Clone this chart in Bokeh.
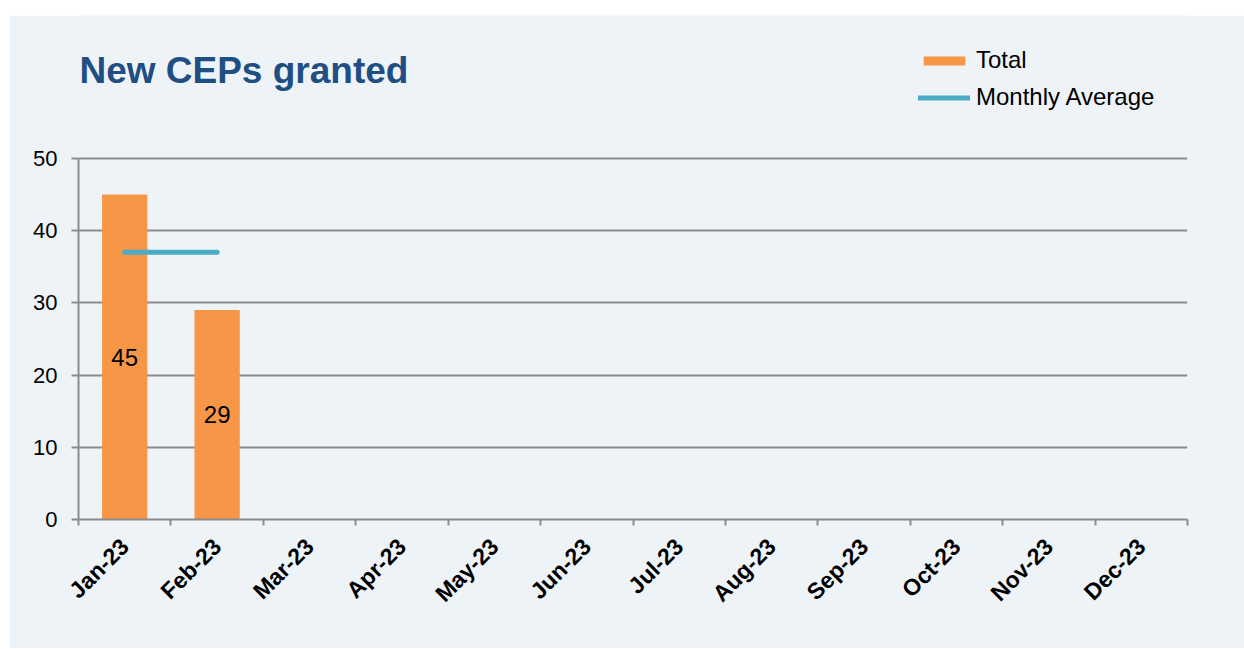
from bokeh.plotting import figure
from bokeh.models import (Range1d, FixedTicker, Label, Legend, LegendItem, ColumnDataSource, Spacer)
from bokeh.layouts import column, row
from bokeh.core.properties import value
from bokeh.embed import file_html
from bokeh.resources import INLINE
import math

# ---- data ----
months = ["Jan-23", "Feb-23", "Mar-23", "Apr-23", "May-23", "Jun-23",
          "Jul-23", "Aug-23", "Sep-23", "Oct-23", "Nov-23", "Dec-23"]
total = [45, 29]
monthly_average = [37, 37]
y_ticks = [0, 10, 20, 30, 40, 50]

BG = "#EEF3F8"
GRID = "#8C8C8C"
ORANGE = "#F79646"
TEAL = "#4BACC6"
FONT = "Liberation Sans"

n = len(months)
xc = [i + 0.5 for i in range(n)]
Y_TOP = 69.8  # frame extends above the 50 gridline to hold title and legend

p = figure(width=1235, height=633, output_backend="svg", toolbar_location=None,
           x_range=Range1d(0, n), y_range=Range1d(0, Y_TOP),
           min_border_left=69, min_border_right=57, min_border_top=0, min_border_bottom=129)
p.background_fill_color = BG
p.border_fill_color = BG
p.outline_line_color = None

# bars
src = ColumnDataSource(dict(x=xc[:len(total)], top=total, half=[t / 2 for t in total],
                            lab=[str(t) for t in total]))
bars = p.vbar(x="x", top="top", width=0.49, source=src, fill_color=ORANGE, line_color=None)
p.text(x="x", y="half", text="lab", source=src, text_align="center", text_baseline="middle",
       text_font=value(FONT), text_font_size="24px", text_color="black")

avg = p.line(x=xc[:len(monthly_average)], y=monthly_average, line_color=TEAL,
             line_width=5, line_cap="round")

# axes
xa = p.xaxis[0]
xa.ticker = FixedTicker(ticks=xc, minor_ticks=list(range(n + 1)))
xa.major_label_overrides = {x: m for x, m in zip(xc, months)}
xa.major_label_orientation = math.pi / 4
xa.major_tick_out = 0
xa.major_tick_in = 0
xa.minor_tick_out = 6
xa.minor_tick_in = 0
xa.minor_tick_line_color = GRID
xa.minor_tick_line_width = 2
xa.axis_line_color = GRID
xa.axis_line_width = 2
xa.major_label_text_font = FONT
xa.major_label_text_font_style = "bold"
xa.major_label_text_font_size = "23px"
xa.major_label_text_color = "black"
xa.major_label_standoff = 17

ya = p.yaxis[0]
ya.ticker = FixedTicker(ticks=y_ticks)
ya.bounds = (0, 50)
ya.minor_tick_line_color = None
ya.major_tick_out = 7
ya.major_tick_in = 0
ya.major_tick_line_color = GRID
ya.major_tick_line_width = 2
ya.axis_line_color = GRID
ya.axis_line_width = 2
ya.major_label_text_font = FONT
ya.major_label_text_font_size = "22px"
ya.major_label_text_color = "black"
ya.major_label_standoff = 14

p.xgrid.grid_line_color = None
p.ygrid.ticker = FixedTicker(ticks=y_ticks)
p.ygrid.grid_line_color = GRID
p.ygrid.grid_line_width = 2

# title
p.add_layout(Label(x=0.01, y=62.2, text="New CEPs granted", text_font=FONT,
                   text_font_size="37px", text_font_style="bold", text_color="#1F4E82",
                   text_baseline="alphabetic", text_align="left"))

# legend
legend = Legend(items=[LegendItem(label="Total", renderers=[bars]),
                       LegendItem(label="Monthly Average", renderers=[avg])],
                location=(840, 408), orientation="vertical",
                glyph_width=52, glyph_height=11, label_standoff=6, spacing=9,
                padding=0, margin=0, border_line_color=None, background_fill_alpha=0,
                label_text_font=FONT, label_text_font_size="24px", label_text_color="black",
                label_height=26)
p.add_layout(legend, "center")

layout = column(Spacer(height=15, width=10), row(Spacer(width=9, height=10), p, spacing=0), spacing=0)
open("out.html", "w").write(file_html(layout, INLINE))
